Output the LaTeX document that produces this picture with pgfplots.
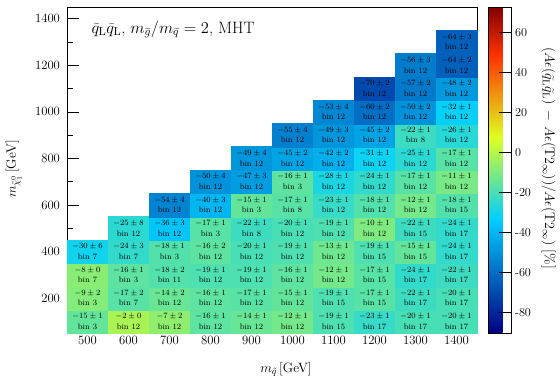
\RequirePackage{fix-cm}
\documentclass[border=0pt]{standalone}
\usepackage{pgfplots}
\pgfplotsset{compat=1.18}
\usepackage{pgfplotstable}

\pgfplotsset{colormap={rootrb}{
rgb255=(0,0,130) rgb255=(0,30,148) rgb255=(0,59,166) rgb255=(0,89,184)
rgb255=(0,118,201) rgb255=(0,148,219) rgb255=(0,177,237) rgb255=(0,207,255)
rgb255=(44,217,210) rgb255=(89,226,165) rgb255=(133,236,121) rgb255=(178,245,76)
rgb255=(222,255,31) rgb255=(229,214,25) rgb255=(235,173,19) rgb255=(242,133,12)
rgb255=(248,92,6) rgb255=(255,51,0) rgb255=(213,34,0) rgb255=(172,17,0)
rgb255=(130,0,0)}}

\pgfplotstableread{
mx my val err bin
500 100 -15 1 3
500 200 -9 2 3
500 300 -8 0 7
500 400 -30 6 7
600 100 -2 0 12
600 200 -17 2 7
600 300 -16 1 3
600 400 -24 3 7
600 500 -25 8 12
700 100 -7 2 12
700 200 -14 2 12
700 300 -18 2 11
700 400 -18 1 3
700 500 -36 3 12
700 600 -54 4 12
800 100 -16 1 12
800 200 -16 1 12
800 300 -19 1 12
800 400 -16 2 12
800 500 -17 1 3
800 600 -40 3 12
800 700 -50 4 12
900 100 -14 1 12
900 200 -17 1 12
900 300 -19 1 12
900 400 -20 1 12
900 500 -22 1 8
900 600 -15 1 3
900 700 -47 3 12
900 800 -49 4 12
1000 100 -12 1 12
1000 200 -15 1 12
1000 300 -16 1 12
1000 400 -19 1 12
1000 500 -20 1 12
1000 600 -17 1 8
1000 700 -16 1 3
1000 800 -45 2 12
1000 900 -55 4 12
1100 100 -19 1 15
1100 200 -19 1 15
1100 300 -12 1 12
1100 400 -13 1 12
1100 500 -19 1 12
1100 600 -23 1 12
1100 700 -28 1 12
1100 800 -42 2 12
1100 900 -49 3 12
1100 1000 -53 4 12
1200 100 -23 1 17
1200 200 -17 1 15
1200 300 -17 1 15
1200 400 -19 1 15
1200 500 -10 1 12
1200 600 -18 1 12
1200 700 -24 1 12
1200 800 -31 1 12
1200 900 -45 2 12
1200 1000 -60 2 12
1200 1100 -70 2 12
1300 100 -20 1 17
1300 200 -22 1 17
1300 300 -24 1 17
1300 400 -15 1 15
1300 500 -22 1 15
1300 600 -12 1 12
1300 700 -17 1 12
1300 800 -25 1 12
1300 900 -22 1 8
1300 1000 -50 2 12
1300 1100 -57 2 12
1300 1200 -56 3 12
1400 100 -20 1 17
1400 200 -20 1 17
1400 300 -22 1 17
1400 400 -24 1 17
1400 500 -24 1 17
1400 600 -18 1 15
1400 700 -11 1 12
1400 800 -17 1 12
1400 900 -26 1 12
1400 1000 -32 1 12
1400 1100 -48 2 12
1400 1200 -64 2 12
1400 1300 -64 3 12
}\cells

\begin{document}
\begin{tikzpicture}
\useasboundingbox (-67bp,-48bp) rectangle (493bp,333bp);
\begin{axis}[
  name=main,
  at={(0,0)}, anchor=south west,
  scale only axis, width=410bp, height=326bp,
  xmin=450, xmax=1450, ymin=50, ymax=1450,
  axis on top,
  /pgf/number format/1000 sep={},
  xtick={500,600,...,1400},
  xtick style={draw=none},
  ytick={200,400,...,1400},
  minor ytick={100,300,...,1300},
  ytick pos=left,
  tick align=inside,
  major tick length=12bp, minor tick length=6bp,
  ytick style={black, line width=0.5pt},
  ticklabel style={font=\fontsize{12.7bp}{15bp}\selectfont},
  yticklabel style={xshift=-3.5bp},
  label style={font=\fontsize{13.5bp}{16bp}\selectfont},
  xlabel={$m_{\tilde{q}}$\,[GeV]},
  ylabel={$m_{\tilde{\chi}^{0}_{1}}$\,[GeV]},
  xlabel style={at={(axis description cs:0.534,-0.113)}, anchor=center},
  ylabel style={at={(axis description cs:-0.13,0.503)}, anchor=center},
  point meta min=-90.3, point meta max=72.8,
  colormap name=rootrb,
  colorbar,
  colorbar style={
    at={(parent axis.north east)}, anchor=north west, xshift=3bp,
    scale only axis, width=23bp, height=326bp,
    ytick={-80,-60,...,60},
    yticklabels={-80,-60,-40,-20,0,20,40,60},
    ytick pos=right, yticklabel pos=right,
    tick align=inside, major tick length=13bp,
    ytick style={black, line width=0.6pt},
    yticklabel style={font=\fontsize{12.2bp}{14bp}\selectfont},
  },
]
\addplot[scatter, only marks, mark=square*, mark size=11.85bp,
  scatter/use mapped color={draw=mapped color, fill=mapped color},
  mark options={xscale=1.7536, line width=0.2pt},
  point meta=\thisrow{val},
] table[x=mx, y=my] {\cells};
\addplot[only marks, mark=none,
  point meta=\thisrow{val},
  visualization depends on={\thisrow{err}\as\cerr},
  visualization depends on={\thisrow{bin}\as\cbin},
  nodes near coords={\pgfmathprintnumber[fixed,precision=0]{\pgfplotspointmeta}${}\pm{}$\pgfmathprintnumber[fixed,precision=0]{\cerr}\\bin~\pgfmathprintnumber[fixed,precision=0]{\cbin}},
  every node near coord/.append style={anchor=center, align=center, inner sep=0pt, text=black, font=\fontsize{8.1bp}{10.6bp}\selectfont},
] table[x=mx, y=my] {\cells};
\node[anchor=base west, font=\fontsize{16.5bp}{19bp}\selectfont] at (rel axis cs:0,1) [xshift=21bp, yshift=-26.3bp]
  {$\widetilde{q}_{\mathrm{L}}\widetilde{q}_{\mathrm{L}}$, $m_{\widetilde{g}}/m_{\widetilde{q}}=2$, MHT};
\end{axis}
\path (main.north east) ++(71.5bp,-151bp) node[rotate=-90, inner sep=0pt, font=\fontsize{14bp}{16bp}\selectfont]
  {$(A\epsilon(\widetilde{q}_{\mathrm{L}}\widetilde{q}_{\mathrm{L}})\,-\,A\epsilon(\mathrm{T2}_{\infty}))/A\epsilon(\mathrm{T2}_{\infty})$\ [\%]};
\end{tikzpicture}
\end{document}
